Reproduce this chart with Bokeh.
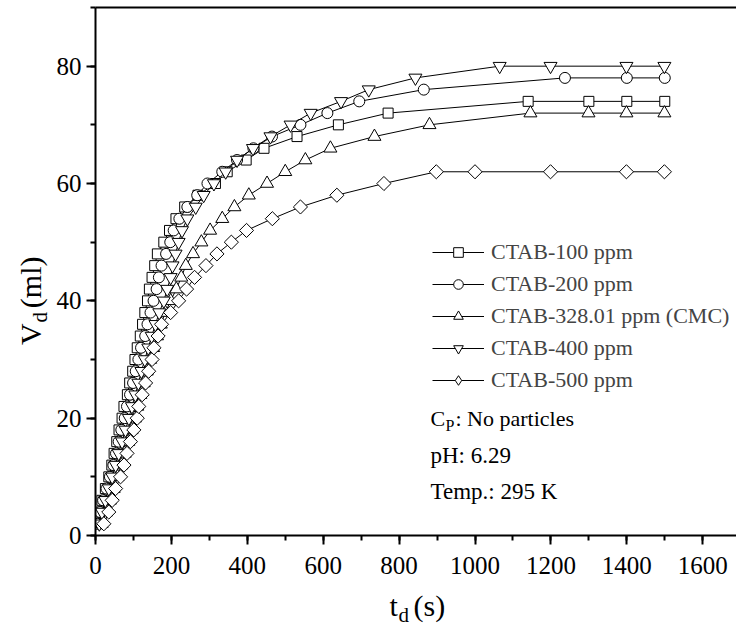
import math
from bokeh.plotting import figure
from bokeh.layouts import column, row
from bokeh.models import (Range1d, SingleIntervalTicker, FixedTicker, Legend, LegendItem, Label, LinearAxis)
from bokeh.core.properties import value
from bokeh.embed import file_html
from bokeh.resources import INLINE

# ---------------- data ----------------
labels = ["CTAB-100 ppm", "CTAB-200 ppm", "CTAB-328.01 ppm (CMC)", "CTAB-400 ppm", "CTAB-500 ppm"]

t_100 = [4, 9, 17, 26, 35, 43, 49, 56, 62, 70, 75, 84, 90, 98, 104, 110, 118, 124, 130, 137,
         142, 149, 156, 163, 180, 195, 212, 235, 270, 316, 347, 397, 444, 531, 640, 771,
         1140, 1300, 1400, 1500]
v_100 = [2, 4, 6, 8, 10, 12, 14, 16, 18, 20, 22, 24, 26, 28, 30, 32, 34, 36, 38, 40,
         42, 44, 46, 48, 50, 52, 54, 56, 58, 60, 62, 64, 66, 68, 70, 72,
         74, 74, 74, 74]

t_200 = [6, 12, 20, 29, 38, 47, 54, 61, 68, 77, 83, 91, 99, 106, 113, 120, 131, 137, 145, 153,
         161, 167, 174, 186, 197, 206, 221, 242, 268, 295, 334, 373, 416, 465, 540, 611,
         695, 865, 1237, 1400, 1500]
v_200 = [2, 4, 6, 8, 10, 12, 14, 16, 18, 20, 22, 24, 26, 28, 30, 32, 34, 36, 38, 40,
         42, 44, 46, 48, 50, 52, 54, 56, 58, 60, 62, 64, 66, 68, 70, 72,
         74, 76, 78, 78, 78]

t_328 = [16, 28, 38, 48, 58, 68, 77, 86, 95, 104, 110, 118, 127, 135, 144, 152, 162, 172, 184, 198,
         213, 226, 238, 257, 279, 302, 334, 366, 404, 452, 500, 553, 619, 735, 880,
         1146, 1299, 1399, 1499]
v_328 = [2, 4, 6, 8, 10, 12, 14, 16, 18, 20, 22, 24, 26, 28, 30, 32, 34, 36, 38, 40,
         42, 44, 46, 48, 50, 52, 54, 56, 58, 60, 62, 64, 66, 68, 70,
         72, 72, 72, 72]

t_400 = [10, 17, 26, 35, 44, 53, 61, 70, 79, 88, 96, 105, 113, 121, 130, 139, 148, 158, 168, 180,
         189, 198, 203, 211, 219, 228, 242, 264, 285, 312, 343, 373, 415, 461, 514, 567,
         647, 720, 843, 1065, 1199, 1399, 1499]
v_400 = [2, 4, 6, 8, 10, 12, 14, 16, 18, 20, 22, 24, 26, 28, 30, 32, 34, 36, 38, 40,
         42, 44, 46, 48, 50, 52, 54, 56, 58, 60, 62, 64, 66, 68, 70, 72,
         74, 76, 78, 80, 80, 80, 80]

t_500 = [22, 35, 44, 53, 66, 75, 83, 92, 101, 110, 114, 123, 132, 140, 149, 154, 165, 174, 198, 219,
         240, 261, 291, 320, 358, 398, 466, 540, 636, 760, 898, 1000, 1199, 1399, 1499]
v_500 = [2, 4, 6, 8, 10, 12, 14, 16, 18, 20, 22, 24, 26, 28, 30, 32, 34, 36, 38, 40,
         42, 44, 46, 48, 50, 52, 54, 56, 58, 60, 62, 62, 62, 62, 62]

x_range = (0, 1689)
y_range = (0, 90)

FONT = "Liberation Serif"

# ---------------- main figure ----------------
p = figure(width=686, height=590, output_backend="svg", toolbar_location=None,
           x_range=Range1d(*x_range), y_range=Range1d(*y_range),
           min_border_left=45, min_border_right=0, min_border_top=7, min_border_bottom=55)
p.grid.visible = False
p.outline_line_color = None
p.background_fill_color = "white"
p.border_fill_color = "white"

xax = p.below[0]
yax = p.left[0]
xax.ticker = SingleIntervalTicker(interval=200, num_minor_ticks=2)
yax.ticker = SingleIntervalTicker(interval=20, num_minor_ticks=2)

for ax in (xax, yax):
    ax.axis_line_width = 2
    ax.axis_line_color = "black"
    ax.major_tick_line_width = 2
    ax.minor_tick_line_width = 2
    ax.major_tick_in = 0
    ax.minor_tick_in = 0
    ax.major_tick_out = 9
    ax.minor_tick_out = 5
    ax.major_tick_line_color = "black"
    ax.minor_tick_line_color = "black"
    ax.major_label_text_font = FONT
    ax.major_label_text_font_style = "normal"
    ax.major_label_text_font_size = "25px"
    ax.major_label_text_color = "black"
xax.major_label_standoff = 12
yax.major_label_standoff = 5

# top frame line: an axis with no ticks
top = LinearAxis(ticker=FixedTicker(ticks=[]), axis_line_width=2, axis_line_color="black",
                 major_tick_line_color=None, minor_tick_line_color=None,
                 major_label_standoff=0, major_tick_out=0, minor_tick_out=0)
p.add_layout(top, "above")

series = [
    (t_100, v_100, dict(marker="square", size=10, angle=0.0)),
    (t_200, v_200, dict(marker="circle", size=11, angle=0.0)),
    (t_328, v_328, dict(marker="triangle", size=13, angle=0.0)),
    (t_400, v_400, dict(marker="inverted_triangle", size=13, angle=0.0)),
    (t_500, v_500, dict(marker="square", size=10, angle=math.pi / 4)),
]

items = []
for i, ((t, v, mk), lab) in enumerate(zip(series, labels)):
    lr = p.line(t, v, line_color="black", line_width=1)
    sr = p.scatter(t, v, fill_color="white", line_color="black", line_width=1, **mk)
    rends = [lr, sr]
    if i == 4:
        dr = p.scatter(t, v, marker="diamond", size=12, fill_color="white",
                       line_color="black", line_width=1, visible=False)
        rends = [lr, dr]
    items.append(LegendItem(label=lab, renderers=rends))

legend = Legend(items=items, location=(337, 142), orientation="vertical",
                border_line_color=None, background_fill_alpha=0, padding=0, margin=0,
                spacing=6, glyph_width=52, glyph_height=24, label_height=24,
                label_standoff=7, label_text_font=FONT, label_text_font_size="22px")
p.add_layout(legend, "center")

def lab(text, x, y, size):
    p.add_layout(Label(text=text, x=x, y=y, x_units="screen", y_units="screen",
                       text_font=FONT, text_font_size=size, text_color="black",
                       text_baseline="middle", text_align="left"))

lab("C", 335, 117, "22px")
lab("P", 350, 110, "16px")
lab(": No particles", 360, 117, "22px")
lab("pH: 6.29", 335, 80, "23px")
lab("Temp.: 295 K", 335, 44, "23px")

# ---------------- axis-title strips ----------------
def strip(w, h):
    f = figure(width=w, height=h, output_backend="svg", toolbar_location=None,
               x_range=Range1d(0, w), y_range=Range1d(0, h),
               x_axis_type=None, y_axis_type=None, min_border=0)
    f.grid.visible = False
    f.outline_line_color = None
    f.background_fill_color = "white"
    f.border_fill_color = "white"
    return f

def txt(f, x, y, s, size, angle=0.0):
    f.text(x=[x], y=[y], text=[s], angle=angle, text_font=value(FONT),
           text_font_size=value(size), text_baseline="middle", text_align="left",
           text_color="black")

yfig = strip(50, 590)
txt(yfig, 30, 213, "V", "30px", math.pi / 2)
txt(yfig, 39, 238, "d", "21px", math.pi / 2)
txt(yfig, 30, 254, "(ml)", "30px", math.pi / 2)

xfig = strip(736, 49)
txt(xfig, 389, 34, "t", "30px")
txt(xfig, 398, 25, "d", "21px")
txt(xfig, 413, 34, "(s)", "30px")

layout = column(row(yfig, p, spacing=0), xfig, spacing=0)
open("out.html", "w").write(file_html(layout, INLINE))
